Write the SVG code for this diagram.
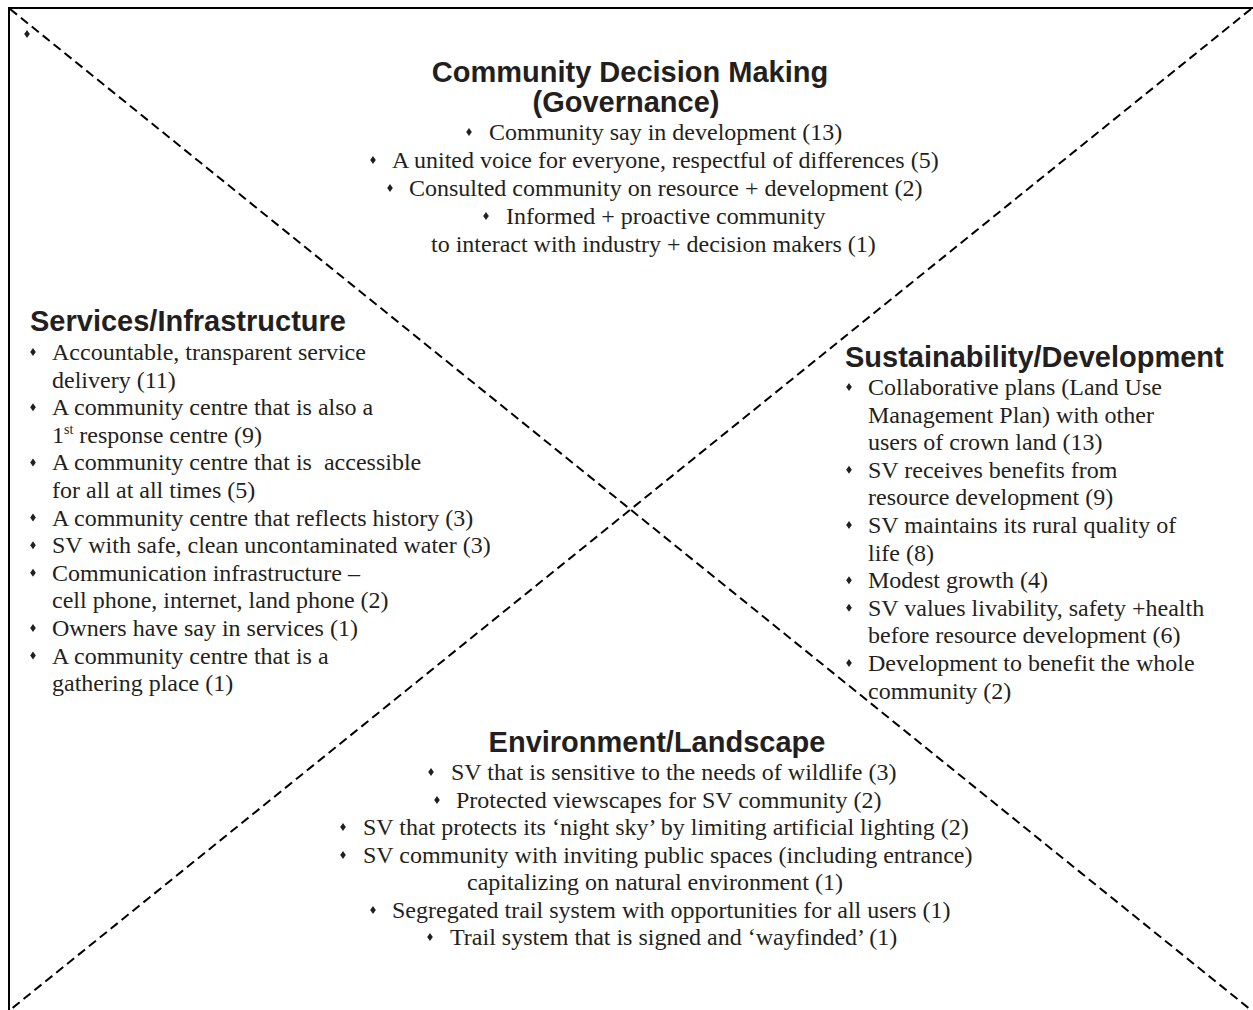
<svg xmlns="http://www.w3.org/2000/svg" xmlns:xlink="http://www.w3.org/1999/xlink" width="1253" height="1010" viewBox="0 0 1253 1010">
<style>
.h{font-family:"Liberation Sans",Arial,sans-serif;font-weight:bold;font-size:29px;fill:#231f20}
.b{font-family:"Liberation Serif","Times New Roman",serif;font-size:24px;fill:#231f20}
.sup{font-size:14px}
.dash{stroke:#000;stroke-width:2;stroke-dasharray:9 5;fill:none}
.frame{stroke:#000;stroke-width:2;fill:none}
</style>
<defs>
<path id="d" d="M0,-4 L2.8,0 L0,4 L-2.8,0Z" fill="#231f20"/>
</defs>
<rect width="1253" height="1010" fill="#fff"/>
<g id="frame">
<path class="frame" d="M9,1010 L9,8 L1253,8"/>
<use xlink:href="#d" x="27" y="34"/>
</g>
<g id="connectors">
<line class="dash" x1="10" y1="9" x2="1251" y2="1010"/>
<line class="dash" x1="1251" y1="9" x2="10" y2="1010"/>
</g>
<g id="governance">
<text class="h" x="630" y="82" text-anchor="middle">Community Decision Making</text>
<text class="h" x="626" y="112" text-anchor="middle">(Governance)</text>
<use xlink:href="#d" x="469" y="132"/>
<text class="b" x="489" y="140">Community say in development (13)</text>
<use xlink:href="#d" x="373" y="160"/>
<text class="b" x="392" y="168">A united voice for everyone, respectful of differences (5)</text>
<use xlink:href="#d" x="390" y="188"/>
<text class="b" x="409" y="196">Consulted community on resource + development (2)</text>
<use xlink:href="#d" x="486" y="216"/>
<text class="b" x="506" y="224">Informed + proactive community</text>
<text class="b" x="431" y="252">to interact with industry + decision makers (1)</text>
</g>
<g id="services">
<text class="h" x="30" y="331">Services/Infrastructure</text>
<g class="b">
<use xlink:href="#d" x="33" y="352"/>
<text x="52" y="360">Accountable, transparent service</text>
<text x="52" y="387.6">delivery (11)</text>
<use xlink:href="#d" x="33" y="407.2"/>
<text x="52" y="415.2">A community centre that is also a</text>
<text x="52" y="442.8">1<tspan class="sup" dy="-9">st</tspan><tspan dy="9"> response centre (9)</tspan></text>
<use xlink:href="#d" x="33" y="462.4"/>
<text x="52" y="470.4" xml:space="preserve">A community centre that is  accessible</text>
<text x="52" y="498">for all at all times (5)</text>
<use xlink:href="#d" x="33" y="517.6"/>
<text x="52" y="525.6">A community centre that reflects history (3)</text>
<use xlink:href="#d" x="33" y="545.2"/>
<text x="52" y="553.2">SV with safe, clean uncontaminated water (3)</text>
<use xlink:href="#d" x="33" y="572.8"/>
<text x="52" y="580.8">Communication infrastructure –</text>
<text x="52" y="608.4">cell phone, internet, land phone (2)</text>
<use xlink:href="#d" x="33" y="628"/>
<text x="52" y="636">Owners have say in services (1)</text>
<use xlink:href="#d" x="33" y="655.6"/>
<text x="52" y="663.6">A community centre that is a</text>
<text x="52" y="691.2">gathering place (1)</text>
</g>
</g>
<g id="sustainability">
<text class="h" x="845" y="367">Sustainability/Development</text>
<g class="b">
<use xlink:href="#d" x="849" y="387"/>
<text x="868" y="395">Collaborative plans (Land Use</text>
<text x="868" y="422.6">Management Plan) with other</text>
<text x="868" y="450.2">users of crown land (13)</text>
<use xlink:href="#d" x="849" y="469.8"/>
<text x="868" y="477.8">SV receives benefits from</text>
<text x="868" y="505.4">resource development (9)</text>
<use xlink:href="#d" x="849" y="525"/>
<text x="868" y="533">SV maintains its rural quality of</text>
<text x="868" y="560.6">life (8)</text>
<use xlink:href="#d" x="849" y="580.2"/>
<text x="868" y="588.2">Modest growth (4)</text>
<use xlink:href="#d" x="849" y="607.8"/>
<text x="868" y="615.8">SV values livability, safety +health</text>
<text x="868" y="643.4">before resource development (6)</text>
<use xlink:href="#d" x="849" y="663"/>
<text x="868" y="671">Development to benefit the whole</text>
<text x="868" y="698.6">community (2)</text>
</g>
</g>
<g id="environment">
<text class="h" x="657" y="752" text-anchor="middle">Environment/Landscape</text>
<g class="b">
<use xlink:href="#d" x="431" y="772"/>
<text x="451" y="780">SV that is sensitive to the needs of wildlife (3)</text>
<use xlink:href="#d" x="437" y="800"/>
<text x="456" y="808">Protected viewscapes for SV community (2)</text>
<use xlink:href="#d" x="343" y="827"/>
<text x="363" y="835">SV that protects its ‘night sky’ by limiting artificial lighting (2)</text>
<use xlink:href="#d" x="343" y="855"/>
<text x="363" y="863">SV community with inviting public spaces (including entrance)</text>
<text x="467" y="890">capitalizing on natural environment (1)</text>
<use xlink:href="#d" x="373" y="910"/>
<text x="392" y="918">Segregated trail system with opportunities for all users (1)</text>
<use xlink:href="#d" x="430" y="937"/>
<text x="450" y="945">Trail system that is signed and ‘wayfinded’ (1)</text>
</g>
</g>
</svg>
